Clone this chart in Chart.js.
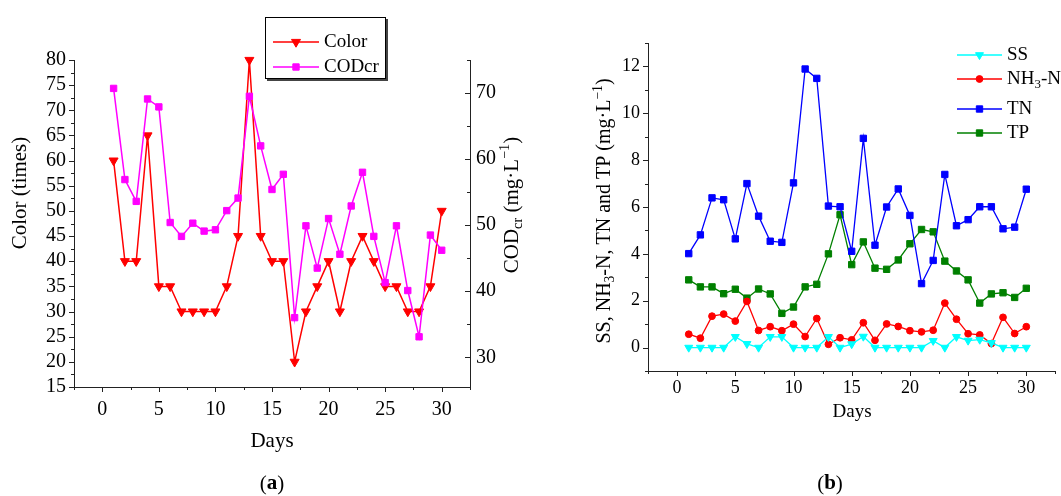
<!DOCTYPE html>
<html><head><meta charset="utf-8">
<script src="https://cdn.jsdelivr.net/npm/chart.js@4/dist/chart.umd.min.js"></script>
<style>
html,body{margin:0;padding:0;background:#fff;width:1061px;height:496px;overflow:hidden}
#wa{position:absolute;left:0;top:0;width:540px;height:496px}
#wb{position:absolute;left:540px;top:0;width:521px;height:496px}
</style></head><body>
<div id="wa"><canvas id="ca"></canvas></div>
<div id="wb"><canvas id="cb"></canvas></div>
<script>
// ---------- data ----------
const days = [1,2,3,4,5,6,7,8,9,10,11,12,13,14,15,16,17,18,19,20,21,22,23,24,25,26,27,28,29,30];
const colorTimes = [60,40,40,65,35,35,30,30,30,30,35,45,80,45,40,40,20,30,35,40,30,40,45,40,35,35,30,30,35,50];
const codCr = [70.7,56.9,53.6,69.1,67.9,50.4,48.3,50.3,49.1,49.3,52.2,54.1,69.5,62.0,55.4,57.7,36.0,49.9,43.5,51.0,45.6,52.9,58.0,48.3,41.3,49.9,40.1,33.1,48.5,46.2];
const ss = [0,0,0,0,0.46,0.16,0,0.46,0.46,0,0,0,0.46,0,0.15,0.47,0,0,0,0,0,0.29,0,0.46,0.30,0.34,0.20,0,0,0];
const nh3n = [0.57,0.40,1.34,1.43,1.13,1.97,0.73,0.89,0.72,1.00,0.47,1.24,0.14,0.42,0.33,1.06,0.31,1.01,0.90,0.72,0.67,0.74,1.90,1.21,0.59,0.54,0.17,1.29,0.60,0.89];
const tn = [4.01,4.81,6.39,6.31,4.64,7.00,5.61,4.54,4.49,7.03,11.89,11.49,6.04,6.01,4.11,8.93,4.37,6.00,6.77,5.64,2.73,3.72,7.39,5.20,5.46,6.01,6.01,5.07,5.14,6.76];
const tp = [2.89,2.59,2.59,2.30,2.49,2.11,2.50,2.29,1.46,1.73,2.59,2.70,4.00,5.67,3.54,4.51,3.39,3.34,3.74,4.43,5.04,4.94,3.69,3.27,2.89,1.90,2.29,2.34,2.14,2.53];

// ---------- tick labels ----------
const xTicks = [0,5,10,15,20,25,30];
const xMinor = [-2.5,2.5,7.5,12.5,17.5,22.5,27.5,32.5];
const colorTicks = [15,20,25,30,35,40,45,50,55,60,65,70,75,80];
const colorMinor = [17.5,22.5,27.5,32.5,37.5,42.5,47.5,52.5,57.5,62.5,67.5,72.5,77.5];
const codTicks = [30,40,50,60,70];
const codMinor = [35,45,55,65,75];
const bTicks = [0,2,4,6,8,10,12];
const bMinor = [-1,1,3,5,7,9,11,13];

const FAM = "'Liberation Serif','Times New Roman',serif";
const AX = '#222';

function pts(arr){ return days.map((d,i)=>({x:d,y:arr[i]})); }

function richWidth(ctx, segs, size){
  let w=0;
  segs.forEach(s=>{ const fs = s.sub||s.sup ? size*0.68 : size; ctx.font = (s.bold?'bold ':'')+fs+'px '+FAM; w += ctx.measureText(s.t).width; });
  return w;
}
function drawRich(ctx, segs, cx, cy, size, rot, align){
  ctx.save();
  ctx.translate(cx, cy);
  if (rot) ctx.rotate(rot);
  const w = richWidth(ctx, segs, size);
  let x = align==='left' ? 0 : -w/2;
  ctx.fillStyle = '#000';
  ctx.textBaseline = 'middle';
  ctx.textAlign = 'left';
  segs.forEach(s=>{
    const fs = s.sub||s.sup ? size*0.68 : size;
    ctx.font = (s.bold?'bold ':'')+fs+'px '+FAM;
    let dy = 0;
    if (s.sub) dy = size*0.28;
    if (s.sup) dy = -size*0.32;
    ctx.fillText(s.t, x, dy);
    x += ctx.measureText(s.t).width;
  });
  ctx.restore();
}
function tickMarks(chart, id, values, len, mode){
  const s = chart.scales[id], ctx = chart.ctx, a = chart.chartArea;
  ctx.save(); ctx.strokeStyle = AX; ctx.lineWidth = 1; ctx.beginPath();
  values.forEach(v=>{
    const p = Math.round(s.getPixelForValue(v)) + 0.5;
    if (mode==='bottom'){ const y = Math.round(a.bottom); ctx.moveTo(p,y); ctx.lineTo(p,y+len); }
    else if (mode==='leftOut'){ const x = Math.round(a.left); ctx.moveTo(x,p); ctx.lineTo(x-len,p); }
    else if (mode==='rightIn'){ const x = Math.round(a.right); ctx.moveTo(x,p); ctx.lineTo(x-len,p); }
  });
  ctx.stroke(); ctx.restore();
}
function legendRow(ctx, ds, x1, x2, y, label, size){
  ctx.save();
  ctx.strokeStyle = ds.borderColor; ctx.lineWidth = ds.borderWidth;
  ctx.beginPath(); ctx.moveTo(x1,y); ctx.lineTo(x2,y); ctx.stroke();
  ctx.fillStyle = ds.pointBackgroundColor; ctx.strokeStyle = ds.pointBackgroundColor; ctx.lineWidth = 1;
  Chart.helpers.drawPoint(ctx, {pointStyle: ds.pointStyle, rotation: ds.pointRotation||0, radius: ds.pointRadius, borderWidth:1}, (x1+x2)/2, y);
  ctx.restore();
  drawRich(ctx, label, x2+5, y, size, 0, 'left');
}

function yAxisOpts(ticksArr, pos, pad, min, max, size, w){
  return {
    type:'linear', position:pos, min:min, max:max,
    grid:{display:false, drawTicks:false},
    border:{display:true, color:AX, width:1},
    afterBuildTicks: s=>{ s.ticks = ticksArr.map(v=>({value:v})); },
    afterFit: s=>{ s.width = w; },
    ticks:{color:'#000', font:{family:FAM, size:size}, padding:pad, autoSkip:false}
  };
}
function xAxisOpts(pad, size){
  return {
    type:'linear', position:'bottom', min:-2.5, max:32.5,
    grid:{display:false, drawTicks:false},
    border:{display:true, color:AX, width:1},
    afterBuildTicks: s=>{ s.ticks = xTicks.map(v=>({value:v})); },
    afterFit: s=>{ s.height = 40; },
    ticks:{color:'#000', font:{family:FAM, size:size}, padding:pad, autoSkip:false, maxRotation:0}
  };
}

// ---------- panel (a) ----------
const dsColor = {label:'Color', data:pts(colorTimes), yAxisID:'y', borderColor:'#ff0000', backgroundColor:'#ff0000',
  borderWidth:1.5, pointStyle:'triangle', pointRotation:180, pointRadius:5.2, pointBackgroundColor:'#ff0000', pointBorderColor:'#ff0000', pointBorderWidth:1, order:1, clip:false};
const dsCod = {label:'CODcr', data:pts(codCr), yAxisID:'y2', borderColor:'#ff00ff', backgroundColor:'#ff00ff',
  borderWidth:1.5, pointStyle:'rect', pointRadius:4.5, pointBackgroundColor:'#ff00ff', pointBorderColor:'#ff00ff', pointBorderWidth:1, order:0, clip:false};

const pluginA = {
  id:'decoA',
  afterDraw(chart){
    const ctx = chart.ctx;
    tickMarks(chart,'x',xTicks,5,'bottom');
    tickMarks(chart,'x',xMinor,3,'bottom');
    tickMarks(chart,'y',colorTicks,5,'leftOut');
    tickMarks(chart,'y',colorMinor,3,'leftOut');
    tickMarks(chart,'y2',codTicks,5,'rightIn');
    tickMarks(chart,'y2',codMinor,3,'rightIn');
    // axis titles
    drawRich(ctx,[{t:'Color (times)'}],20,193,21,-Math.PI/2);
    drawRich(ctx,[{t:'COD'},{t:'cr',sub:true},{t:' (mg·L'},{t:'−1',sup:true},{t:')'}],512,205,21,-Math.PI/2);
    drawRich(ctx,[{t:'Days'}],272,441,21,0);
    drawRich(ctx,[{t:'('},{t:'a',bold:true},{t:')'}],272,484,21,0);
    // legend box
    ctx.save();
    ctx.fillStyle = '#444'; ctx.fillRect(267,19,121,62);
    ctx.fillStyle = '#fff'; ctx.fillRect(265,17,121,62);
    ctx.strokeStyle = '#000'; ctx.lineWidth = 1; ctx.strokeRect(265.5,17.5,120,61);
    ctx.restore();
    legendRow(ctx, dsColor, 273, 319, 42, [{t:'Color'}], 19);
    legendRow(ctx, dsCod, 273, 319, 67, [{t:'CODcr'}], 19);
  }
};

new Chart(document.getElementById('ca'), {
  type:'line',
  data:{datasets:[dsColor, dsCod]},
  options:{
    responsive:true, maintainAspectRatio:false, animation:false, devicePixelRatio:1,
    layout:{padding:{left:24, right:30, top:60, bottom:69}},
    plugins:{legend:{display:false}, tooltip:{enabled:false}},
    scales:{
      x: xAxisOpts(11, 20),
      y: yAxisOpts(colorTicks,'left',8,15,80,20,50),
      y2: yAxisOpts(codTicks,'right',6,25.5,75,20,40)
    }
  },
  plugins:[pluginA]
});

// ---------- panel (b) ----------
const dsSS = {label:'SS', data:pts(ss), borderColor:'#00ffff', borderWidth:1.3, pointStyle:'triangle', pointRotation:180, pointRadius:4.6,
  pointBackgroundColor:'#00ffff', pointBorderColor:'#00ffff', pointBorderWidth:1, clip:false};
const dsNH = {label:'NH3-N', data:pts(nh3n), borderColor:'#ff0000', borderWidth:1.3, pointStyle:'circle', pointRadius:3.4,
  pointBackgroundColor:'#ff0000', pointBorderColor:'#ff0000', pointBorderWidth:1, clip:false};
const dsTN = {label:'TN', data:pts(tn), borderColor:'#0000ff', borderWidth:1.3, pointStyle:'rect', pointRadius:4.5,
  pointBackgroundColor:'#0000ff', pointBorderColor:'#0000ff', pointBorderWidth:1, clip:false};
const dsTP = {label:'TP', data:pts(tp), borderColor:'#008000', borderWidth:1.3, pointStyle:'rect', pointRadius:4.5,
  pointBackgroundColor:'#008000', pointBorderColor:'#008000', pointBorderWidth:1, clip:false};

const pluginB = {
  id:'decoB',
  afterDraw(chart){
    const ctx = chart.ctx;
    tickMarks(chart,'x',xTicks,5,'bottom');
    tickMarks(chart,'x',xMinor,3,'bottom');
    tickMarks(chart,'y',bTicks,5,'leftOut');
    tickMarks(chart,'y',bMinor,3,'leftOut');
    drawRich(ctx,[{t:'SS, NH'},{t:'3',sub:true},{t:'-N, TN and TP (mg·L'},{t:'−1',sup:true},{t:')'}],605-540,211,20,-Math.PI/2);
    drawRich(ctx,[{t:'Days'}],852-540,412,19,0);
    drawRich(ctx,[{t:'('},{t:'b',bold:true},{t:')'}],830-540,484,21,0);
    legendRow(ctx, dsSS, 957-540, 1002-540, 55, [{t:'SS'}], 19);
    legendRow(ctx, dsNH, 957-540, 1002-540, 79, [{t:'NH'},{t:'3',sub:true},{t:'-N'}], 19);
    legendRow(ctx, dsTN, 957-540, 1002-540, 109, [{t:'TN'}], 19);
    legendRow(ctx, dsTP, 957-540, 1002-540, 133, [{t:'TP'}], 19);
  }
};

new Chart(document.getElementById('cb'), {
  type:'line',
  data:{datasets:[dsSS, dsNH, dsTN, dsTP]},
  options:{
    responsive:true, maintainAspectRatio:false, animation:false, devicePixelRatio:1,
    layout:{padding:{left:58, right:4, top:43, bottom:85}},
    plugins:{legend:{display:false}, tooltip:{enabled:false}},
    scales:{
      x: xAxisOpts(6, 18),
      y: yAxisOpts(bTicks,'left',8,-1,13,18,50)
    }
  },
  plugins:[pluginB]
});
</script>
</body></html>
